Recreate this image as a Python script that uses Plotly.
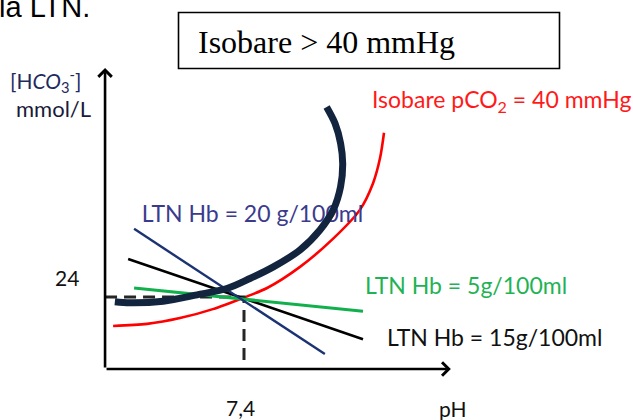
import plotly.graph_objects as go

# ---------------- data (pH, [HCO3-] mmol/L) ----------------
ph_ref = 7.4
hco3_ref = 24.0

# Isobare pCO2 = 40 mmHg (red)
iso40_ph = [7.026, 7.123, 7.217, 7.311, 7.400, 7.466, 7.560, 7.654, 7.731, 7.769, 7.789, 7.800]
iso40_hco3 = [18.5, 18.9, 20.0, 21.7, 23.9, 25.7, 29.7, 35.0, 40.5, 45.6, 50.4, 55.1]

# Isobare > 40 mmHg (thick navy arc)
isohigh_ph = [7.636, 7.660, 7.676, 7.682, 7.676, 7.655, 7.617, 7.560, 7.484, 7.417,
              7.351, 7.266, 7.169, 7.074, 7.031]
isohigh_hco3 = [60.0, 56.9, 53.1, 49.3, 44.9, 40.5, 36.7, 32.9, 29.7, 27.5,
                25.6, 24.4, 23.2, 22.9, 23.1]

# LTN (buffer lines)
hb20_ph = [7.086, 7.631]
hb20_hco3 = [36.9, 13.2]
hb15_ph = [7.069, 7.740]
hb15_hco3 = [31.2, 16.0]
hb5_ph = [7.086, 7.740]
hb5_hco3 = [25.7, 21.3]

# axes extents
ph_min, ph_max = 7.003, 7.991
hco3_min, hco3_max = 10.36, 67.37
dash_bottom = 11.7

# labels
lbl_top = "la LTN."
lbl_box = "Isobare > 40 mmHg"
lbl_iso40 = "Isobare pCO<sub>2</sub> = 40 mmHg"
lbl_hb20 = "LTN Hb = 20 g/100ml"
lbl_hb5 = "LTN Hb = 5g/100ml"
lbl_hb15 = "LTN Hb = 15g/100ml"
lbl_y1 = "[H<i>CO</i><sub>3</sub><sup>-</sup>]"
lbl_y2 = "mmol/L"
lbl_xtick = "7,4"
lbl_ytick = "24"
lbl_x = "pH"

# ---------------- figure ----------------
W, H = 633, 420
ML, MR, MT, MB = 104, 179, 68, 51
PW, PH = W - ML - MR, H - MT - MB


def px(x):
    return (x - ML) / PW


def py(y):
    return (H - MB - y) / PH


SANS = "Lato, 'Open Sans', sans-serif"

fig = go.Figure()

fig.add_trace(go.Scatter(x=iso40_ph, y=iso40_hco3, mode="lines",
                         line=dict(color="#ff0000", width=2.6, shape="spline", smoothing=0.8),
                         cliponaxis=False, hoverinfo="skip"))
fig.add_trace(go.Scatter(x=[ph_min, ph_ref, ph_ref], y=[hco3_ref, hco3_ref, dash_bottom],
                         mode="lines",
                         line=dict(color="#262626", width=3, dash="12px,7px"),
                         cliponaxis=False, hoverinfo="skip"))
fig.add_trace(go.Scatter(x=hb15_ph, y=hb15_hco3, mode="lines",
                         line=dict(color="#000000", width=2.6),
                         cliponaxis=False, hoverinfo="skip"))
fig.add_trace(go.Scatter(x=hb5_ph, y=hb5_hco3, mode="lines",
                         line=dict(color="#12b04c", width=3),
                         cliponaxis=False, hoverinfo="skip"))
fig.add_trace(go.Scatter(x=hb20_ph, y=hb20_hco3, mode="lines",
                         line=dict(color="#1c3373", width=2.4),
                         cliponaxis=False, hoverinfo="skip"))
# label under the navy arc
fig.add_trace(go.Scatter(x=[7.108], y=[39.2], mode="text", text=[lbl_hb20],
                         textposition="middle right",
                         textfont=dict(family=SANS, size=23, color="#3b3b8e"),
                         cliponaxis=False, hoverinfo="skip"))
fig.add_trace(go.Scatter(x=isohigh_ph, y=isohigh_hco3, mode="lines",
                         line=dict(color="#13243f", width=7, shape="spline", smoothing=0.9),
                         cliponaxis=False, hoverinfo="skip"))

# axes with arrows
arrow_common = dict(text="", showarrow=True, arrowhead=4, arrowsize=1.0,
                    arrowwidth=2.6, arrowcolor="#000000",
                    xref="x", yref="y", axref="x", ayref="y")
fig.add_annotation(x=ph_min, y=hco3_max, ax=ph_min, ay=hco3_min, **arrow_common)
fig.add_annotation(x=ph_max, y=hco3_min, ax=ph_min, ay=hco3_min, **arrow_common)


def text(t, x, y, size, color, family=SANS, xanchor="left"):
    fig.add_annotation(text=t, x=px(x), y=py(y), xref="paper", yref="paper",
                       xanchor=xanchor, yanchor="middle", showarrow=False,
                       font=dict(family=family, size=size, color=color))


text(lbl_top, -3, 7, 29, "#000000", family="'Liberation Sans', Arial, sans-serif")
text(lbl_box, 196, 42, 32, "#000000", family="'Liberation Serif', 'Times New Roman', serif")
text(lbl_iso40, 370, 100, 23, "#ff1a1a")
text(lbl_hb5, 363, 285, 23, "#1fb355")
text(lbl_hb15, 385, 337, 23, "#111111")
text(lbl_y1, 8, 80, 21, "#1e2a5e")
text(lbl_y2, 14, 108, 22, "#1a1a3a")
text(lbl_ytick, 67, 277, 21, "#111111", xanchor="center")
text(lbl_xtick, 240, 407, 21, "#111111", xanchor="center")
text(lbl_x, 453, 408, 21, "#111111", xanchor="center")

# title box
fig.add_shape(type="rect", xref="paper", yref="paper",
              x0=px(178.5), x1=px(559.5), y0=py(12.5), y1=py(68.5),
              line=dict(color="#000000", width=1.6), fillcolor="rgba(0,0,0,0)")

fig.update_layout(
    width=W, height=H, autosize=False,
    margin=dict(l=ML, r=MR, t=MT, b=MB, pad=0),
    paper_bgcolor="white", plot_bgcolor="white",
    showlegend=False,
    xaxis=dict(range=[7.0, 8.0], visible=False, fixedrange=True),
    yaxis=dict(range=[hco3_min, hco3_max], visible=False, fixedrange=True),
)

fig.write_html("out.html", config={"displayModeBar": False, "staticPlot": True},
               post_script="document.body.style.margin='0';document.body.style.overflow='hidden';")
